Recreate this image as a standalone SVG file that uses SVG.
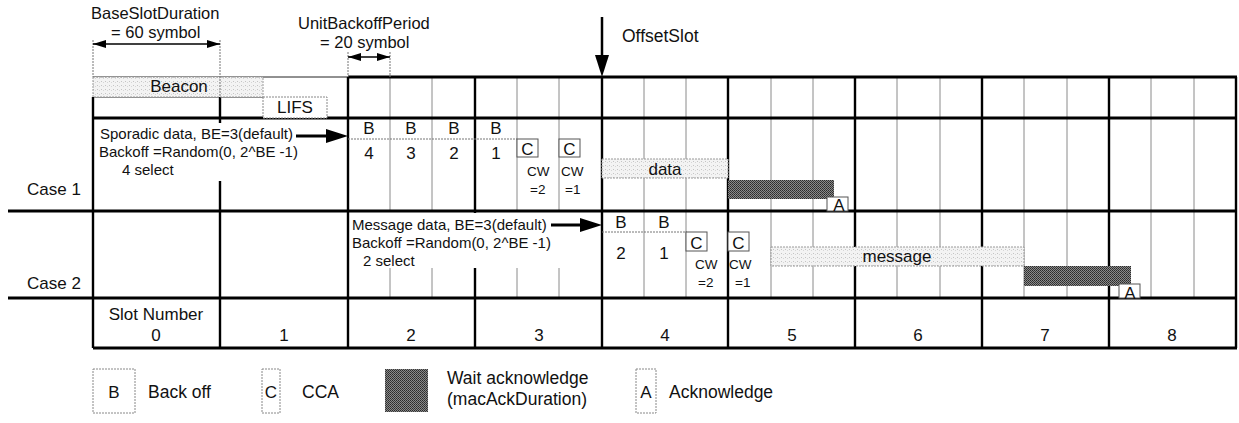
<svg xmlns="http://www.w3.org/2000/svg" width="1239" height="423" viewBox="0 0 1239 423">
<style>
text{font-family:"Liberation Sans",Arial,sans-serif;fill:#111}
.h{font-size:17.5px}
.hh{font-size:16.5px}
.m{font-size:17px}
.d{font-size:15px}
.s{font-size:13.5px}
.c{text-anchor:middle}
.thick{stroke:#000;stroke-width:2.4;fill:none}
.thickh{stroke:#000;stroke-width:3;fill:none}
.thin{stroke:#222;stroke-width:1;fill:none}
.sub{stroke:#8a8a8a;stroke-width:1;fill:none}
.dot{stroke:#777;stroke-width:1;stroke-dasharray:2,1;fill:none}
.box{fill:#fff;stroke:#555;stroke-width:1}
.lbox{fill:#fff;stroke:#888;stroke-width:1;stroke-dasharray:2,1}
.arr{stroke:#000;fill:none}
</style>
<defs>
<pattern id="light" width="4" height="4" patternUnits="userSpaceOnUse"><rect width="4" height="4" fill="#f3f3f3"/><rect x="1" y="1" width="1" height="1" fill="#c4c4c4"/><rect x="3" y="2" width="1" height="1" fill="#d6d6d6"/></pattern>
<pattern id="dark" width="2" height="2" patternUnits="userSpaceOnUse"><rect width="2" height="2" fill="#8a8a8a"/><rect width="1" height="1" fill="#2a2a2a"/><rect x="1" y="1" width="1" height="1" fill="#3a3a3a"/></pattern>
<marker id="dim" markerUnits="userSpaceOnUse" markerWidth="13" markerHeight="8" refX="13" refY="4" orient="auto-start-reverse" viewBox="0 0 13 8"><path d="M0,0 L13,4 L0,8 z" fill="#000"/></marker>
<marker id="big" markerUnits="userSpaceOnUse" markerWidth="22" markerHeight="14" refX="14" refY="7" orient="auto" viewBox="0 0 22 14"><path d="M0,0 L22,7 L0,14 z" fill="#000"/></marker>
</defs>
<rect width="1239" height="423" fill="#fff"/>

<g id="grid">
  <g class="sub">
    <path d="M390,77V211M432,77V211M517,77V211M559,77V211"/>
    <path d="M390,268V298M432,268V298M517,268V298M559,268V298"/>
    <path d="M644,77V298M686,77V298M771,77V298M813,77V298M897,77V298M940,77V298M1024,77V298M1067,77V298M1151,77V298M1194,77V298"/>
  </g>
  <path class="thin" d="M93,77H348"/>
  <path class="thickh" d="M348,77H1237"/>
  <path class="thin" d="M93,97H263"/>
  <path class="thickh" d="M93,118H1237"/>
  <path class="thickh" d="M8,211H1237"/>
  <path class="thickh" d="M8,298H1237"/>
  <path class="thickh" d="M93,348H1237"/>
  <path class="thick" d="M93,97V348M220,97V123M220,181V348M348,77V348M475,77V213M475,268V348M602,77V348M728,77V348M855,77V348M982,77V348M1109,77V348M1236,77V348"/>
  <path class="dot" d="M348,139H517"/>
  <path class="dot" d="M602,232H687"/>
</g>

<g id="beacon">
  <rect x="93" y="77" width="170" height="20" fill="url(#light)" stroke="#999" stroke-width="1" stroke-dasharray="2,1"/>
  <text class="m c" x="179" y="92">Beacon</text>
</g>
<g id="lifs">
  <rect class="lbox" x="263" y="97" width="64" height="21"/>
  <text class="m c" x="295" y="113">LIFS</text>
</g>

<g id="header-base">
  <text class="hh" x="91" y="19">BaseSlotDuration</text>
  <text class="hh" x="111" y="38">= 60 symbol</text>
</g>
<g id="header-unit">
  <text class="hh" x="298" y="29">UnitBackoffPeriod</text>
  <text class="hh" x="320" y="48">= 20 symbol</text>
</g>
<g id="header-offset">
  <text class="h" x="622" y="42">OffsetSlot</text>
</g>

<g id="case1-desc">
  <text class="d" x="100" y="139">Sporadic data, BE=3(default)</text>
  <text class="d" x="99" y="157">Backoff =Random(0, 2^BE -1)</text>
  <text class="d" x="122" y="175">4 select</text>
</g>
<g id="case1-label"><text class="m" x="27" y="195">Case 1</text></g>
<g id="case1-backoff">
  <text class="m c" x="369" y="134">B</text>
  <text class="m c" x="411" y="134">B</text>
  <text class="m c" x="454" y="134">B</text>
  <text class="m c" x="496" y="134">B</text>
  <text class="m c" x="369" y="159">4</text>
  <text class="m c" x="411" y="159">3</text>
  <text class="m c" x="454" y="159">2</text>
  <text class="m c" x="496" y="159">1</text>
</g>
<g id="case1-cca">
  <rect class="box" x="517" y="139" width="21" height="18"/>
  <text class="m c" x="527.5" y="155">C</text>
  <rect class="box" x="559" y="139" width="21" height="18"/>
  <text class="m c" x="569.5" y="155">C</text>
  <text class="s" x="527" y="176">CW</text>
  <text class="s" x="530" y="194">=2</text>
  <text class="s" x="561" y="176">CW</text>
  <text class="s" x="565" y="194">=1</text>
</g>
<g id="case1-data">
  <rect x="602" y="159" width="126" height="19" fill="url(#light)" stroke="#999" stroke-width="1" stroke-dasharray="2,1"/>
  <text class="m c" x="665" y="175">data</text>
</g>
<g id="case1-wait"><rect x="728" y="180" width="106" height="19" fill="url(#dark)"/></g>
<g id="case1-ack">
  <rect class="box" x="827" y="197" width="21" height="14" stroke="#888"/>
  <text class="m c" x="839" y="211">A</text>
</g>

<g id="case2-desc">
  <rect x="350" y="214" width="200" height="53" fill="#fff"/>
  <text class="d" x="352" y="230">Message data, BE=3(default)</text>
  <text class="d" x="352" y="248">Backoff =Random(0, 2^BE -1)</text>
  <text class="d" x="363" y="266">2 select</text>
</g>
<g id="case2-label"><text class="m" x="27" y="289">Case 2</text></g>
<g id="case2-backoff">
  <text class="m c" x="621" y="228">B</text>
  <text class="m c" x="664" y="228">B</text>
  <text class="m c" x="621" y="259">2</text>
  <text class="m c" x="664" y="259">1</text>
</g>
<g id="case2-cca">
  <rect class="box" x="686" y="232" width="21" height="19"/>
  <text class="m c" x="696.5" y="249">C</text>
  <rect class="box" x="728" y="232" width="21" height="19"/>
  <text class="m c" x="738.5" y="249">C</text>
  <text class="s" x="695" y="269">CW</text>
  <text class="s" x="698" y="287">=2</text>
  <text class="s" x="729" y="269">CW</text>
  <text class="s" x="735" y="287">=1</text>
</g>
<g id="case2-message">
  <rect x="771" y="247" width="253" height="19" fill="url(#light)" stroke="#999" stroke-width="1" stroke-dasharray="2,1"/>
  <text class="m c" x="897" y="262">message</text>
</g>
<g id="case2-wait"><rect x="1024" y="266" width="107" height="20" fill="url(#dark)"/></g>
<g id="case2-ack">
  <rect class="box" x="1119" y="284" width="21" height="14" stroke="#888"/>
  <text class="m c" x="1130" y="299">A</text>
</g>

<g id="slot-numbers">
  <text class="m c" x="156" y="320">Slot Number</text>
  <text class="m c" x="156" y="341">0</text>
  <text class="m c" x="284" y="341">1</text>
  <text class="m c" x="411" y="341">2</text>
  <text class="m c" x="539" y="341">3</text>
  <text class="m c" x="665" y="341">4</text>
  <text class="m c" x="792" y="341">5</text>
  <text class="m c" x="918" y="341">6</text>
  <text class="m c" x="1045" y="341">7</text>
  <text class="m c" x="1172" y="341">8</text>
</g>

<g id="legend-backoff">
  <rect class="lbox" x="93" y="369" width="42" height="44"/>
  <text class="m c" x="114" y="398">B</text>
  <text class="h" x="148" y="398">Back off</text>
</g>
<g id="legend-cca">
  <rect class="lbox" x="262" y="369" width="18" height="44"/>
  <text class="m c" x="271" y="398">C</text>
  <text class="h" x="302" y="398">CCA</text>
</g>
<g id="legend-wait">
  <rect x="385" y="369" width="43" height="43" fill="url(#dark)"/>
  <text class="h" x="447" y="384">Wait acknowledge</text>
  <text class="h" x="447" y="405">(macAckDuration)</text>
</g>
<g id="legend-ack">
  <rect class="lbox" x="636" y="369" width="20" height="44"/>
  <text class="m c" x="646" y="398">A</text>
  <text class="h" x="669" y="398">Acknowledge</text>
</g>

<g id="connectors">
  <path class="dot" d="M93,40V77M220,40V97M348,52V77M390,52V77"/>
  <line class="arr" x1="93" y1="44" x2="220" y2="44" stroke-width="1.5" marker-start="url(#dim)" marker-end="url(#dim)"/>
  <line class="arr" x1="348" y1="57" x2="390" y2="57" stroke-width="1.5" marker-start="url(#dim)" marker-end="url(#dim)"/>
  <line class="arr" x1="602" y1="17" x2="602" y2="69" stroke-width="2.5" marker-end="url(#big)"/>
  <line class="arr" x1="296" y1="136" x2="340" y2="136" stroke-width="3" marker-end="url(#big)"/>
  <line class="arr" x1="551" y1="225" x2="594" y2="225" stroke-width="3" marker-end="url(#big)"/>
</g>
</svg>
